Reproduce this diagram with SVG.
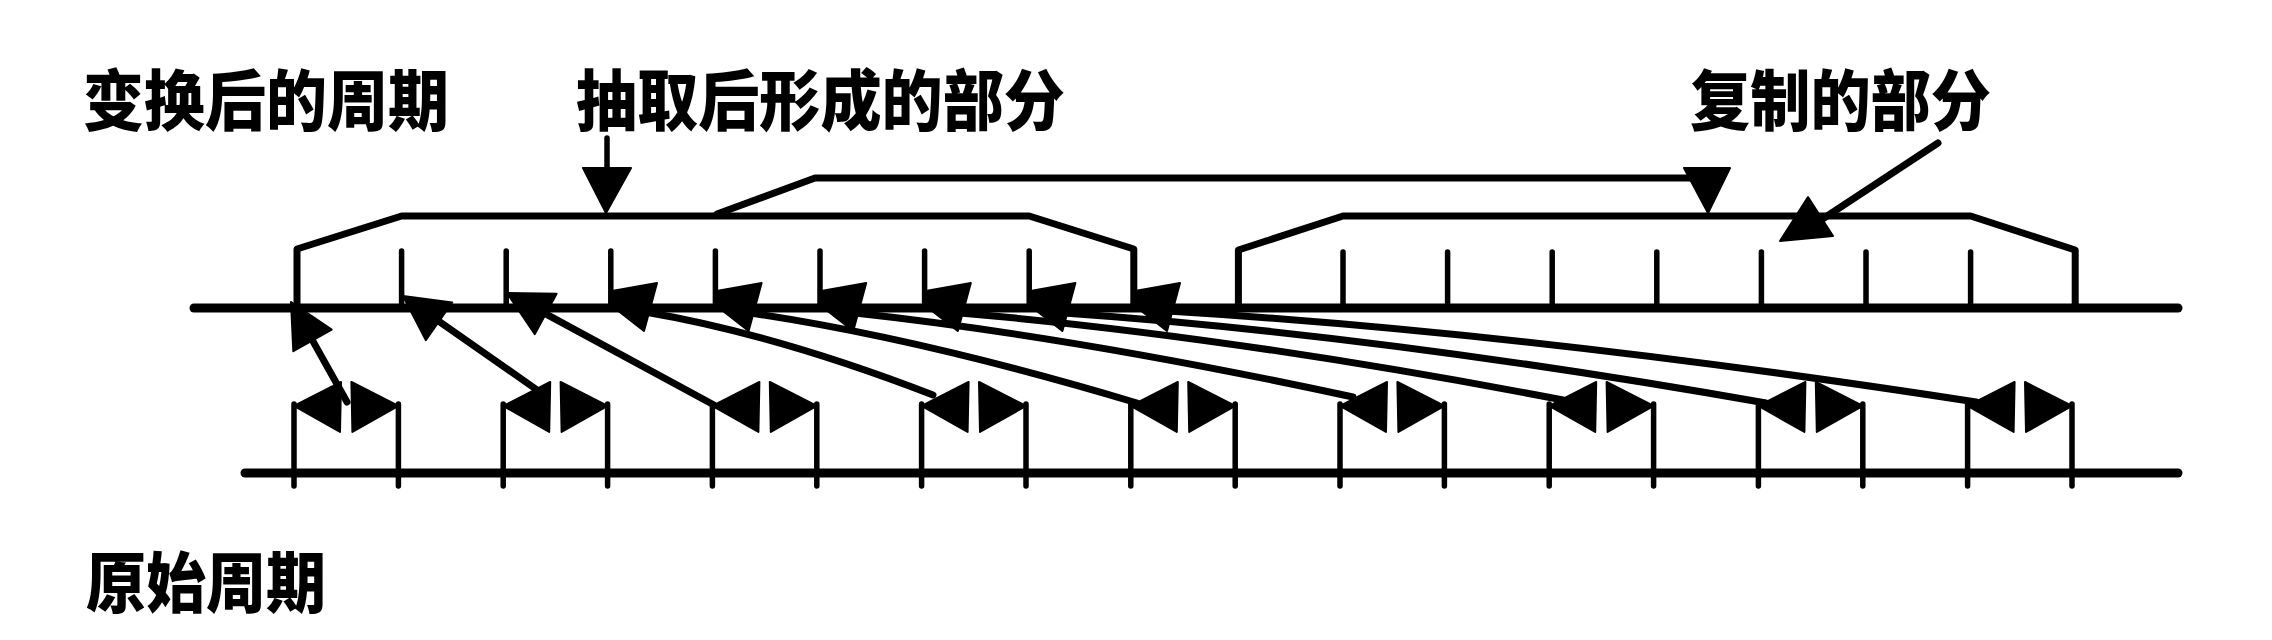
<svg xmlns="http://www.w3.org/2000/svg" width="2272" height="640" viewBox="0 0 2272 640">
<style>
.ln{stroke:#000;fill:none;stroke-width:7;stroke-linejoin:round;stroke-linecap:round}
.ax{stroke:#000;fill:none;stroke-width:9;stroke-linecap:round}
.tk{stroke:#000;fill:none;stroke-width:5.5;stroke-linecap:round}
.hd{fill:#000;stroke:#000;stroke-width:2;stroke-linejoin:round}
.lbl{font-family:"Noto Sans CJK SC","Noto Sans CJK TC",sans-serif;font-weight:900;font-size:66px;fill:#000}
</style>
<defs>
<g id="box">
<path class="tk" d="M0,404 L0,486 M104.4,404 L104.4,486"/>
<polygon class="hd" points="0,406 47,382 46,432"/>
<polygon class="hd" points="104.4,406 57.4,382 58.4,432"/>
</g>
</defs>
<rect width="2272" height="640" fill="#fff"/>

<g id="labels">
<text class="lbl" x="83" y="125" textLength="366" lengthAdjust="spacingAndGlyphs">变换后的周期</text>
<text class="lbl" x="576" y="125" textLength="489" lengthAdjust="spacingAndGlyphs">抽取后形成的部分</text>
<text class="lbl" x="1690" y="125" textLength="301" lengthAdjust="spacingAndGlyphs">复制的部分</text>
<text class="lbl" x="86" y="607" textLength="240" lengthAdjust="spacingAndGlyphs">原始周期</text>
</g>

<g id="transformed-axis">
<line class="ax" x1="194" y1="308" x2="2178" y2="308"/>
</g>

<g id="extracted-part">
<path class="ln" d="M297,308 L297,249 L401.6,216 L1029.2,216 L1133.8,249 L1133.8,308"/>
<path class="tk" d="M401.6,251 V308 M506.2,251 V308 M610.8,251 V308 M715.4,251 V308 M820,251 V308 M924.6,251 V308 M1029.2,251 V308"/>
</g>

<g id="copied-part">
<path class="ln" d="M1238.4,308 L1238.4,250 L1343,216 L1970.6,216 L2075.2,250 L2075.2,308"/>
<path class="tk" d="M1343,252 V308 M1447.6,252 V308 M1552.2,252 V308 M1656.8,252 V308 M1761.4,252 V308 M1866,252 V308 M1970.6,252 V308"/>
</g>

<g id="original-axis">
<line class="ax" x1="245" y1="473" x2="2178" y2="473"/>
</g>

<g id="original-boxes">
<use href="#box" x="294"/>
<use href="#box" x="503.2"/>
<use href="#box" x="712.4"/>
<use href="#box" x="921.6"/>
<use href="#box" x="1130.8"/>
<use href="#box" x="1340"/>
<use href="#box" x="1549.2"/>
<use href="#box" x="1758.4"/>
<use href="#box" x="1967.6"/>
</g>

<g id="pointer-extracted">
<line class="tk" x1="607" y1="138" x2="607" y2="170"/>
<polygon class="hd" points="583,168 631,168 606,213"/>
</g>

<g id="pointer-copied">
<line class="ln" x1="1818" y1="222" x2="1938" y2="143"/>
<polygon class="hd" points="1808,197 1780,241 1833,236"/>
</g>

<g id="connectors">
<path class="ln" d="M717,214 L815,178 L1692,178"/>
<polygon class="hd" points="1684,168 1730,168 1708,213"/>

<path class="ln" d="M347,402 L312.5,340.4"/>
<polygon class="hd" points="291,302 331.7,329.6 293.3,351.2"/>
<path class="ln" d="M540,392 L439,321.3"/>
<polygon class="hd" points="403,296 452.2,302.5 425.8,340.1"/>
<path class="ln" d="M714,405 L545.7,313.9"/>
<polygon class="hd" points="507,293 556.6,293.7 534.8,334.1"/>

<path class="ln" d="M645,312 Q775,334 933,395"/>
<polygon class="hd" points="612,291 657,283 644,331 612,306"/>
<path class="ln" d="M750,313 Q920,338 1137,403"/>
<polygon class="hd" points="716.6,291 761.6,283 748.6,331 716.6,306"/>
<path class="ln" d="M855,313 Q1075,337 1353,397"/>
<polygon class="hd" points="821.2,291 866.2,283 853.2,331 821.2,306"/>
<path class="ln" d="M960,313 Q1230,336 1563,400"/>
<polygon class="hd" points="925.8,291 970.8,283 957.8,331 925.8,306"/>
<path class="ln" d="M1064,313 Q1380,335 1766,403"/>
<polygon class="hd" points="1030.4,291 1075.4,283 1062.4,331 1030.4,306"/>
<path class="ln" d="M1168,311 Q1530,333 1976,402"/>
<polygon class="hd" points="1135,291 1180,283 1167,331 1135,306"/>
</g>
</svg>
